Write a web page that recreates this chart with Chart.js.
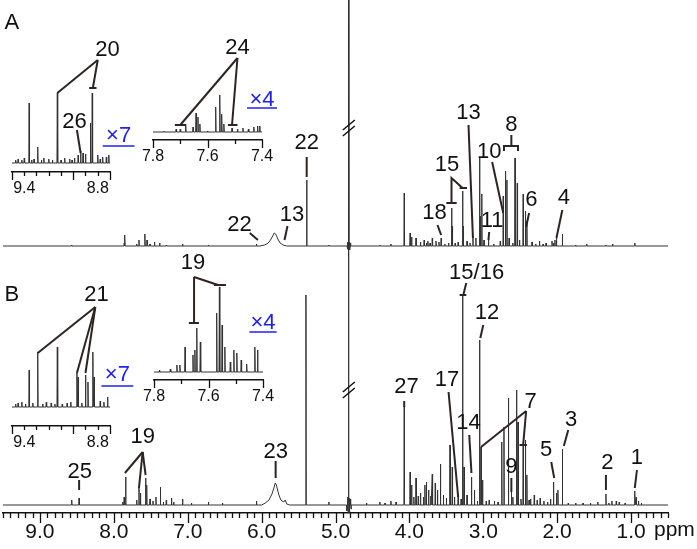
<!DOCTYPE html>
<html>
<head>
<meta charset="utf-8">
<script src="https://cdn.jsdelivr.net/npm/chart.js@4.4.0/dist/chart.umd.min.js"></script>
<style>
  body { margin: 0; background: #fff; }
  #wrap { position: relative; width: 697px; height: 549px; overflow: hidden; }
  canvas { position: absolute; }
</style>
</head>
<body>
<div id="wrap">
  <canvas id="main" width="697" height="549" style="left:0;top:0"></canvas>
  <canvas id="a1" width="145" height="175" style="left:0;top:30px"></canvas>
  <canvas id="a2" width="150" height="135" style="left:140px;top:30px"></canvas>
  <canvas id="b1" width="145" height="170" style="left:0;top:280px"></canvas>
  <canvas id="b2" width="150" height="160" style="left:140px;top:250px"></canvas>
</div>
<script>
const FONT = '"Liberation Sans", Arial, sans-serif';
const BLUE = '#2020f0';

// main axis
const xTicks = [9, 8, 7, 6, 5, 4, 3, 2, 1];
const xTickLabels = ['9.0', '8.0', '7.0', '6.0', '5.0', '4.0', '3.0', '2.0', '1.0'];

// spectrum A (heights above its own baseline), [ppm, height]
const peaksA = [
  [8.57, 1], [7.86, 3], [7.85, 11], [7.69, 2], [7.66, 6], [7.58, 12], [7.55, 6], [7.51, 2], [7.45, 4],
  [7.38, 3], [7.29, 1], [7.07, 2], [6.72, 1], [6.07, 2],
  [5.39, 66], [5.09, 1], [4.82, 999], [4.84, -3], [4.835, 4], [4.828, -4], [4.81, 4], [4.805, -4], [4.795, 3],
  [4.40, 1], [4.25, 2], [4.07, 53], [3.99, 13], [3.97, 9], [3.91, 8], [3.85, 4], [3.80, 6], [3.77, 3],
  [3.75, 5], [3.72, 3], [3.69, 8], [3.64, 5], [3.60, 4], [3.57, 8], [3.52, 2], [3.47, 3], [3.43, 38],
  [3.42, 20], [3.38, 3], [3.34, 4], [3.28, 55], [3.27, 20], [3.22, 5], [3.18, 3],
  [3.14, 10], [3.10, 8], [3.05, 88], [3.04, 30], [3.02, 52], [2.99, 6], [2.93, 8], [2.86, 2], [2.77, 5],
  [2.73, 50], [2.70, 75], [2.68, 66], [2.65, 8], [2.60, 3], [2.57, 88], [2.54, 63], [2.51, 6], [2.46, 52],
  [2.43, 35], [2.41, 25], [2.34, 4], [2.29, 2], [2.24, 5], [2.19, 2], [2.15, 3], [2.07, 5], [2.05, 3],
  [2.03, 6], [2.01, 8], [1.93, 12], [1.75, 1], [1.60, 2], [1.34, 1], [1.25, 2], [0.95, 3]
];
const humpA = [[6.02, 0], [5.96, 1], [5.91, 3], [5.88, 6], [5.85, 10], [5.83, 13], [5.81, 12],
  [5.78, 7], [5.75, 3], [5.71, 1], [5.66, 0]];

// spectrum B
const peaksB = [
  [8.57, 5], [8.47, 7], [7.88, 3], [7.86, 8], [7.84, 28], [7.69, 5], [7.66, 18], [7.64, 12], [7.57, 27],
  [7.555, 20], [7.51, 6], [7.47, 4], [7.43, 8], [7.37, 18], [7.33, 3], [7.29, 5], [7.22, 7], [7.19, 3],
  [7.07, 6], [6.95, 2], [6.72, 3], [6.53, 2], [6.07, 4], [5.40, 210], [5.09, 3],
  [4.82, 999], [4.845, -6], [4.835, 8], [4.828, -8], [4.815, 7], [4.808, -7], [4.80, 6], [4.79, -4],
  [4.58, 2], [4.40, 3], [4.33, 2], [4.25, 4], [4.18, 3], [4.07, 99], [3.99, 33], [3.97, 20], [3.94, 8],
  [3.91, 27], [3.88, 9], [3.85, 12], [3.81, 8], [3.79, 20], [3.77, 23], [3.74, 15], [3.71, 9], [3.69, 31],
  [3.65, 22], [3.62, 15], [3.58, 41], [3.54, 10], [3.50, 7], [3.45, 60], [3.42, 38], [3.39, 8], [3.34, 10],
  [3.30, 6], [3.28, 210], [3.26, 38], [3.22, 10], [3.16, 28], [3.12, 15], [3.08, 4], [3.05, 165], [3.03, 58],
  [3.01, 25], [2.96, 4], [2.92, 5], [2.85, 4], [2.80, 3], [2.75, 63], [2.72, 78], [2.66, 107], [2.62, 20],
  [2.60, 8], [2.55, 115], [2.53, 83], [2.49, 6], [2.46, 60], [2.43, 65], [2.41, 30], [2.38, 5], [2.36, 6],
  [2.31, 10], [2.27, 5], [2.23, 7], [2.18, 4], [2.13, 3], [2.09, 6], [2.05, 23], [2.01, 12],
  [1.99, 15], [1.93, 56], [1.85, 2], [1.75, 2], [1.65, 2], [1.55, 2], [1.45, 3], [1.34, 11], [1.30, 2],
  [1.26, 4], [1.20, 4], [1.16, 3], [1.08, 2], [0.95, 14], [0.93, 8], [0.90, 4], [0.86, 2]
];
const humpB = [[6.00, 0], [5.95, 2], [5.90, 5], [5.86, 11], [5.83, 18], [5.815, 22], [5.80, 20],
  [5.77, 11], [5.74, 5], [5.70, 3], [5.68, 5], [5.66, 1], [5.62, 0]];

// insets
const insetA1 = [[9.47, 3], [9.45, 4], [9.42, 3], [9.40, 5], [9.36, 60], [9.34, 3], [9.32, 4], [9.29, 16],
  [9.26, 3], [9.24, 5], [9.20, 4], [9.17, 3], [9.13, 70], [9.10, 3], [9.07, 5], [9.03, 4], [9.01, 3],
  [8.99, 5], [8.96, 8], [8.94, 12], [8.92, 10], [8.90, 9], [8.86, 40], [8.845, 70], [8.80, 8], [8.78, 4],
  [8.76, 6], [8.73, 6], [8.71, 8]];
const insetA2 = [[7.76, 1], [7.715, 3], [7.70, 3], [7.68, 8], [7.653, 5], [7.642, 19], [7.635, 15],
  [7.628, 8], [7.60, 1], [7.57, 25], [7.555, 37], [7.548, 18], [7.54, 8], [7.51, 4], [7.49, 3], [7.47, 4],
  [7.45, 3], [7.43, 5], [7.416, 6], [7.408, 6]];
const insetB1 = [[9.47, 3], [9.45, 4], [9.42, 5], [9.39, 3], [9.36, 37], [9.33, 4], [9.29, 55], [9.25, 3],
  [9.22, 5], [9.18, 4], [9.15, 3], [9.13, 60], [9.09, 3], [9.05, 4], [9.02, 5], [8.97, 34], [8.96, 30],
  [8.93, 4], [8.90, 32], [8.88, 25], [8.84, 55], [8.83, 30], [8.78, 6], [8.75, 5], [8.72, 10]];
const insetB2 = [[7.78, 2], [7.74, 3], [7.716, 7], [7.705, 7], [7.686, 25], [7.657, 17], [7.65, 22],
  [7.643, 44], [7.63, 30], [7.57, 59], [7.56, 85], [7.55, 47], [7.54, 25], [7.52, 10], [7.507, 22],
  [7.496, 19], [7.48, 12], [7.46, 8], [7.43, 25], [7.42, 22]];

const OFFSET_A = 259;

// labels: text position [ppm, height] and leader lines
const notesA = [
  { t: 'A', x: 9.38, y: 223 },
  { t: '22', x: 5.39, y: 103, lines: [[[5.39, 89], [5.39, 69]]] },
  { t: '22', x: 6.30, y: 21, lines: [[[6.16, 13], [6.05, 6]]] },
  { t: '13', x: 5.59, y: 31, lines: [[[5.65, 20], [5.69, 6]]] },
  { t: '13', x: 3.20, y: 133, lines: [[[3.20, 121], [3.14, 8]]] },
  { t: '15', x: 3.49, y: 81, lines: [[[3.50, 43], [3.36, 43]], [[3.43, 43], [3.43, 68], [3.28, 58]], [[3.32, 58], [3.22, 58]]] },
  { t: '18', x: 3.66, y: 33, lines: [[[3.62, 21], [3.57, 11]]] },
  { t: '11', x: 2.88, y: 25, lines: [[[2.92, 14], [2.93, 6]]] },
  { t: '10', x: 2.92, y: 94, lines: [[[2.88, 84], [2.73, 33]]] },
  { t: '8', x: 2.62, y: 121, lines: [[[2.62, 111], [2.62, 100]], [[2.72, 95], [2.72, 100], [2.53, 100], [2.53, 95]]] },
  { t: '6', x: 2.35, y: 46, lines: [[[2.38, 33], [2.42, 19]]] },
  { t: '4', x: 1.91, y: 48, lines: [[[1.93, 36], [2.01, 8]]] }
];
const notesB = [
  { t: 'B', x: 9.38, y: 210 },
  { t: '25', x: 8.46, y: 33, lines: [[[8.47, 25], [8.47, 15]]] },
  { t: '19', x: 7.61, y: 68, lines: [[[7.61, 53], [7.85, 32]], [[7.61, 53], [7.66, 17]], [[7.61, 53], [7.57, 30]]] },
  { t: '23', x: 5.81, y: 53, lines: [[[5.81, 44], [5.81, 27]]] },
  { t: '27', x: 4.04, y: 118, lines: [[[4.07, 104], [4.07, 98]]] },
  { t: '17', x: 3.49, y: 125, lines: [[[3.47, 113], [3.34, 8]]] },
  { t: '15/16', x: 3.09, y: 232, lines: [[[3.23, 222], [3.27, 210]], [[3.32, 210], [3.23, 210]]] },
  { t: '12', x: 2.95, y: 192, lines: [[[3.00, 180], [3.04, 167]]] },
  { t: '14', x: 3.20, y: 82, lines: [[[3.19, 70], [3.16, 32]]] },
  { t: '7', x: 2.36, y: 103, lines: [[[2.42, 94], [3.03, 58]], [[2.42, 94], [2.46, 60]], [[2.51, 60], [2.41, 60]]] },
  { t: '3', x: 1.81, y: 85, lines: [[[1.85, 75], [1.91, 59]]] },
  { t: '5', x: 2.15, y: 55, lines: [[[2.08, 43], [2.04, 27]]] },
  { t: '9', x: 2.62, y: 38, lines: [[[2.62, 27], [2.62, 13]]] },
  { t: '2', x: 1.32, y: 42, lines: [[[1.34, 30], [1.34, 15]]] },
  { t: '1', x: 0.92, y: 47, lines: [[[0.92, 35], [0.95, 17]]] }
];
const notesA1 = [
  { t: '20', x: 8.72, y: 113, lines: [[[8.80, 103], [9.13, 70]], [[8.80, 103], [8.84, 75]], [[8.87, 75], [8.81, 75]]] },
  { t: '26', x: 8.99, y: 41, lines: [[[8.97, 33], [8.94, 10]]] },
  { t: '×7', x: 8.63, y: 27, blue: true, lines: [[[8.76, 17], [8.50, 17]]] }
];
const notesA2 = [
  { t: '24', x: 7.49, y: 84, lines: [[[7.49, 74], [7.70, 7]], [[7.49, 74], [7.51, 7]], [[7.72, 7], [7.68, 7]], [[7.525, 7], [7.49, 7]]] },
  { t: '×4', x: 7.40, y: 32, blue: true, lines: [[[7.455, 24], [7.345, 24]]] }
];
const notesB1 = [
  { t: '21', x: 8.81, y: 112, lines: [[[8.82, 100], [9.29, 54]], [[8.82, 100], [8.97, 34]], [[8.82, 100], [8.90, 34]]] },
  { t: '×7', x: 8.64, y: 32, blue: true, lines: [[[8.77, 21], [8.51, 21]]] }
];
const notesB2 = [
  { t: '19', x: 7.657, y: 109, lines: [[[7.653, 95], [7.653, 49]], [[7.672, 49], [7.635, 49]], [[7.653, 95], [7.565, 87]], [[7.58, 87], [7.536, 87]]] },
  { t: '×4', x: 7.40, y: 49, blue: true, lines: [[[7.45, 40], [7.35, 40]]] }
];

// turn a peak list into line points (each peak a narrow spike)
function trace(peaks, hump, w, lo, hi, off) {
  const pts = [[hi, 0], [lo, 0]];
  peaks.forEach(([p, h]) => pts.push([p + w, 0], [p, h], [p - w, 0]));
  hump.forEach(pt => pts.push(pt));
  pts.sort((a, b) => b[0] - a[0]);
  return pts.map(([x, y]) => ({ x: x, y: y + off }));
}

function drawNotes(chart, notes, off, size) {
  const { ctx, scales } = chart;
  const px = v => scales.x.getPixelForValue(v);
  const py = v => scales.y.getPixelForValue(v + off);
  ctx.save();
  notes.forEach(n => {
    ctx.strokeStyle = n.blue ? BLUE : '#2e2421';
    ctx.lineWidth = n.blue ? 1.5 : 2;
    (n.lines || []).forEach(seg => {
      ctx.beginPath();
      seg.forEach(([a, b], i) => i ? ctx.lineTo(px(a), py(b)) : ctx.moveTo(px(a), py(b)));
      ctx.stroke();
    });
    ctx.fillStyle = n.blue ? BLUE : '#111';
    ctx.font = size + 'px ' + FONT;
    ctx.textAlign = 'center';
    ctx.textBaseline = 'middle';
    ctx.fillText(n.t, px(n.x), py(n.y));
  });
  ctx.restore();
}

function drawTicks(chart, lo, hi, longs, shortLen, longLen) {
  const { ctx, scales, chartArea } = chart;
  ctx.save();
  ctx.strokeStyle = '#111';
  ctx.lineWidth = 1.3;
  const n = Math.round((hi - lo) * 10);
  for (let i = 0; i <= n; i++) {
    const v = +(hi - i * 0.1).toFixed(2);
    const x = Math.round(scales.x.getPixelForValue(v)) + 0.5;
    const len = longs.some(l => Math.abs(l - v) < 1e-6) ? longLen : shortLen;
    ctx.beginPath();
    ctx.moveTo(x, chartArea.bottom);
    ctx.lineTo(x, chartArea.bottom + len);
    ctx.stroke();
  }
  ctx.restore();
}

function breakMark(chart, ppm, val) {
  const { ctx, scales } = chart;
  const cx = scales.x.getPixelForValue(ppm), cy = scales.y.getPixelForValue(val);
  ctx.save();
  ctx.strokeStyle = '#111';
  ctx.lineWidth = 1.5;
  [-3, 3].forEach(d => {
    ctx.beginPath();
    ctx.moveTo(cx - 6, cy + 5 + d);
    ctx.lineTo(cx + 6, cy - 5 + d);
    ctx.stroke();
  });
  ctx.restore();
}

function lineSet(data) {
  return { data: data, showLine: true, borderColor: '#333', borderWidth: 1, pointRadius: 0, tension: 0 };
}

// main spectrum chart
new Chart(document.getElementById('main'), {
  type: 'scatter',
  data: {
    datasets: [
      lineSet(trace(peaksA, humpA, 0.004, 0.5, 9.5, OFFSET_A)),
      lineSet(trace(peaksB, humpB, 0.004, 0.5, 9.5, 0))
    ]
  },
  options: {
    responsive: false, animation: false, devicePixelRatio: 1, events: [],
    layout: { padding: { left: 3, right: 29, top: 0, bottom: 0 } },
    plugins: { legend: { display: false }, tooltip: { enabled: false } },
    scales: {
      x: {
        type: 'linear', reverse: true, min: 0.5, max: 9.5,
        afterBuildTicks: s => { s.ticks = xTicks.map(v => ({ value: v })); },
        afterFit: s => { s.height = 36; },
        ticks: {
          callback: (v, i) => xTickLabels[i], autoSkip: false, maxRotation: 0, padding: 1,
          color: '#111', font: { size: 21, family: FONT }
        },
        grid: { drawOnChartArea: false, tickLength: 6, color: 'rgba(0,0,0,0)' },
        border: { display: true, color: '#111', width: 1.5 }
      },
      y: { display: false, min: -8, max: 505 }
    }
  },
  plugins: [{
    id: 'mainNotes',
    afterDraw(c) {
      drawTicks(c, 0.5, 9.5, xTicks, 5, 10);
      breakMark(c, 4.82, OFFSET_A + 118);
      breakMark(c, 4.82, 115);
      drawNotes(c, notesA, OFFSET_A, 22);
      drawNotes(c, notesB, 0, 22);
      const ctx = c.ctx;
      ctx.save();
      ctx.fillStyle = '#111';
      ctx.font = '21px ' + FONT;
      ctx.textAlign = 'left';
      ctx.textBaseline = 'top';
      ctx.fillText('ppm', c.scales.x.getPixelForValue(0.69), c.chartArea.bottom + 7);
      ctx.restore();
    }
  }]
});

// small expanded views
function inset(id, peaks, w, lo, hi, ymin, ymax, pad, axisH, labelTicks, longTicks, notes) {
  new Chart(document.getElementById(id), {
    type: 'scatter',
    data: { datasets: [lineSet(trace(peaks, [], w, lo, hi, 0))] },
    options: {
      responsive: false, animation: false, devicePixelRatio: 1, events: [],
      layout: { padding: { left: pad[0], right: pad[1], top: 0, bottom: 0 } },
      plugins: { legend: { display: false }, tooltip: { enabled: false } },
      scales: {
        x: {
          type: 'linear', reverse: true, min: lo, max: hi,
          afterBuildTicks: s => { s.ticks = labelTicks.map(v => ({ value: v })); },
          afterFit: s => { s.height = axisH; },
          ticks: {
            callback: v => v.toFixed(1), autoSkip: false, maxRotation: 0, padding: 0,
            color: '#111', font: { size: 16, family: FONT }
          },
          grid: { drawOnChartArea: false, tickLength: 7, color: 'rgba(0,0,0,0)' },
          border: { display: true, color: '#111', width: 1.5 }
        },
        y: { display: false, min: ymin, max: ymax }
      }
    },
    plugins: [{
      id: 'insetNotes',
      afterDraw(c) {
        drawTicks(c, lo, hi, longTicks, 4, 8);
        drawNotes(c, notes, 0, 22);
      }
    }]
  });
}

inset('a1', insetA1, 0.003, 8.7, 9.5, -9, 133, [12, 35], 33, [9.4, 8.8], [9.5, 9.0, 8.7], notesA1);
inset('a2', insetA2, 0.0015, 7.4, 7.8, -8, 102, [13, 28], 25, [7.8, 7.6, 7.4], [7.8, 7.6, 7.4], notesA2);
inset('b1', insetB1, 0.003, 8.7, 9.5, -19, 127, [12, 35], 24, [9.4, 8.8], [9.5, 9.0, 8.7], notesB1);
inset('b2', insetB2, 0.0015, 7.4, 7.8, -8, 122, [14, 27], 30, [7.8, 7.6, 7.4], [7.8, 7.6, 7.4], notesB2);
</script>
</body>
</html>
